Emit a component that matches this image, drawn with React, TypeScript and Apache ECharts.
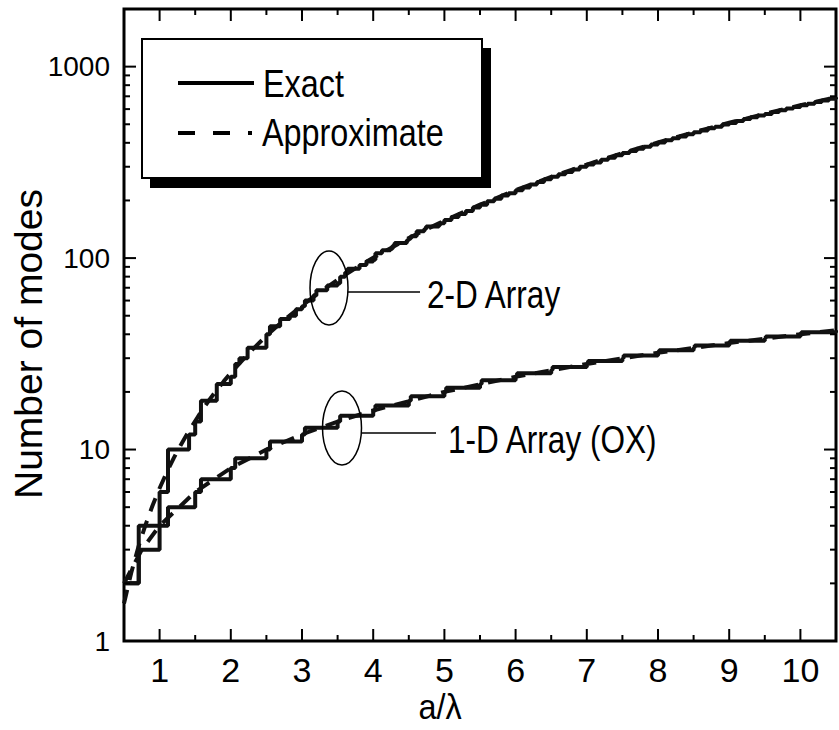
import React, { useEffect, useRef } from "react";
import * as echarts from "echarts";

// ---------------- data ----------------
const X_MIN = 0.5;
const X_MAX = 10.5;
const Y_MIN = 1;
const Y_MAX = 2000;

// 2-D array, exact (staircase): a/λ where the count steps, and the count after the step
const X_2D_EXACT = [
  0.5, 0.707, 1.0, 1.118, 1.414, 1.5, 1.581, 1.803, 2.0, 2.062, 2.121, 2.236, 2.5, 2.55, 2.693,
  2.828, 2.915, 3.0, 3.041, 3.162, 3.202, 3.354, 3.5, 3.536, 3.606, 3.64, 3.808, 3.905, 4.0, 4.031,
  4.123, 4.243, 4.272, 4.301, 4.472, 4.5, 4.528, 4.61, 4.717, 4.743, 4.924, 4.95, 5.0,
  5.1, 5.2, 5.3, 5.4, 5.5, 5.6, 5.7, 5.8, 5.9, 6.0, 6.1, 6.2, 6.3, 6.4, 6.5, 6.6, 6.7, 6.8, 6.9,
  7.0, 7.1, 7.2, 7.3, 7.4, 7.5, 7.6, 7.7, 7.8, 7.9, 8.0, 8.1, 8.2, 8.3, 8.4, 8.5, 8.6, 8.7, 8.8,
  8.9, 9.0, 9.1, 9.2, 9.3, 9.4, 9.5, 9.6, 9.7, 9.8, 9.9, 10.0, 10.1, 10.2, 10.3, 10.4, 10.5,
];
const N_2D_EXACT = [
  2, 4, 6, 10, 12, 14, 18, 22, 24, 28, 30, 34, 40, 44, 48,
  50, 54, 56, 60, 64, 68, 72, 74, 80, 84, 88, 92, 96, 98, 106,
  110, 112, 116, 120, 124, 126, 130, 138, 142, 146, 150, 152, 158,
  164, 170, 176, 184, 190, 198, 204, 212, 218, 226, 234, 242, 250, 258, 266, 274, 282, 290, 300,
  308, 316, 326, 334, 344, 354, 362, 372, 382, 392, 402, 412, 422, 432, 444, 454, 464, 476, 486,
  498, 508, 520, 532, 544, 556, 566, 580, 592, 604, 616, 628, 640, 654, 666, 680, 692,
];

// 2-D array, approximate (smooth)
const X_2D_APPROX = [
  0.5, 0.6, 0.7, 0.8, 0.9, 1.0, 1.1, 1.2, 1.3, 1.4, 1.5, 1.6, 1.7, 1.8, 1.9, 2.0, 2.25, 2.5, 2.75,
  3.0, 3.25, 3.5, 3.75, 4.0, 4.5, 5.0, 5.5, 6.0, 6.5, 7.0, 7.5, 8.0, 8.5, 9.0, 9.5, 10.0, 10.5,
];
const N_2D_APPROX = [
  1.57, 2.26, 3.08, 4.02, 5.09, 6.28, 7.6, 9.05, 10.6, 12.3, 14.1, 16.1, 18.2, 20.4, 22.7, 25.1, 31.8,
  39.3, 47.5, 56.5, 66.4, 77.0, 88.4, 100.5, 127.2, 157.1, 190.1, 226.2, 265.5, 307.9, 353.4, 402.1,
  454.0, 508.9, 567.1, 628.3, 692.7,
];

// 1-D array (OX), exact (staircase)
const X_1D_EXACT = [
  0.5, 0.707, 1.0, 1.118, 1.5, 1.581, 2.0, 2.062, 2.5, 2.55, 3.0, 3.041, 3.5, 3.536, 4.0, 4.031,
  4.5, 4.528, 5.0, 5.025, 5.5, 5.523, 6.0, 6.021, 6.5, 6.519, 7.0, 7.018, 7.5, 7.517, 8.0, 8.016,
  8.5, 8.515, 9.0, 9.014, 9.5, 9.513, 10.0, 10.012, 10.5,
];
const N_1D_EXACT = [
  2, 3, 4, 5, 6, 7, 8, 9, 10, 11, 12, 13, 14, 15, 16, 17, 18, 19, 20, 21, 22, 23, 24, 25, 26, 27,
  28, 29, 30, 31, 32, 33, 34, 35, 36, 37, 38, 39, 40, 41, 42,
];

// 1-D array (OX), approximate
const X_1D_APPROX = [0.5, 0.75, 1.0, 1.5, 2.0, 2.5, 3.0, 3.5, 4.0, 5.0, 6.0, 7.0, 8.0, 9.0, 10.0, 10.5];
const N_1D_APPROX = [2, 3, 4, 6, 8, 10, 12, 14, 16, 20, 24, 28, 32, 36, 40, 42];

// ticks
const X_MAJOR_TICKS = [1, 2, 3, 4, 5, 6, 7, 8, 9, 10];
const X_MINOR_TICKS = [1.5, 2.5, 3.5, 4.5, 5.5, 6.5, 7.5, 8.5, 9.5];
const Y_MAJOR_TICKS = [1, 10, 100, 1000];
const Y_MINOR_TICKS = [
  2, 3, 4, 5, 6, 7, 8, 9, 20, 30, 40, 50, 60, 70, 80, 90, 200, 300, 400, 500, 600, 700, 800, 900, 2000,
];
const Y_LABELS = [1, 10, 100, 1000];

// texts
const X_TITLE = "a/λ";
const Y_TITLE = "Number of modes";
const LEGEND_EXACT = "Exact";
const LEGEND_APPROX = "Approximate";
const NOTE_2D = "2-D Array";
const NOTE_1D = "1-D Array (OX)";

const FONT = '"Liberation Sans", Arial, sans-serif';
const NARROW_SCALE = 0.83;

const zip = (xs: number[], ys: number[]) => xs.map((x, i) => [x, ys[i]]);

export default function App() {
  const ref = useRef<HTMLDivElement>(null);

  useEffect(() => {
    if (!ref.current) return;
    const chart = echarts.init(ref.current, null, { renderer: "svg" });

    const tickData = [
      ...X_MAJOR_TICKS.map((v) => [v, Y_MIN, 0, 1]),
      ...X_MINOR_TICKS.map((v) => [v, Y_MIN, 0, 0]),
      ...Y_MAJOR_TICKS.map((v) => [X_MIN, v, 1, 1]),
      ...Y_MINOR_TICKS.map((v) => [X_MIN, v, 1, 0]),
    ];

    const lineStyleBase = { color: "#111", width: 4 };

    const narrowText = (text: string, x: number, y: number, size: number, extra: any = {}) => ({
      type: "text",
      x,
      y,
      scaleX: NARROW_SCALE,
      z: 22,
      ...extra,
      style: { text, font: `${size}px ${FONT}`, fill: "#000", align: "left", verticalAlign: "middle" },
    });

    const option: any = {
      animation: false,
      backgroundColor: "#fff",
      grid: {
        left: 124,
        top: 9,
        width: 714,
        height: 632,
        show: true,
        borderColor: "#000",
        borderWidth: 3,
        backgroundColor: "transparent",
      },
      xAxis: {
        type: "value",
        min: X_MIN,
        max: X_MAX,
        interval: 0.5,
        axisLine: { show: false },
        axisTick: { show: false },
        splitLine: { show: false },
        axisLabel: {
          margin: 12,
          color: "#000",
          fontSize: 34,
          fontFamily: FONT,
          formatter: (v: number) => (Number.isInteger(v) && v >= 1 && v <= 10 ? String(v) : ""),
        },
      },
      yAxis: {
        type: "log",
        logBase: 10,
        min: Y_MIN,
        max: Y_MAX,
        axisLine: { show: false },
        axisTick: { show: false },
        splitLine: { show: false },
        minorTick: { show: false },
        axisLabel: {
          margin: 14,
          color: "#000",
          fontSize: 28,
          fontFamily: FONT,
          showMaxLabel: false,
          formatter: (v: number) => {
            const hit = Y_LABELS.find((l) => Math.abs(l - v) / l < 1e-6);
            return hit !== undefined ? String(hit) : "";
          },
        },
      },
      series: [
        {
          name: LEGEND_EXACT + " 2-D",
          type: "line",
          step: "end",
          showSymbol: false,
          data: zip(X_2D_EXACT, N_2D_EXACT),
          lineStyle: { ...lineStyleBase },
          z: 3,
        },
        {
          name: LEGEND_EXACT + " 1-D",
          type: "line",
          step: "end",
          showSymbol: false,
          data: zip(X_1D_EXACT, N_1D_EXACT),
          lineStyle: { ...lineStyleBase },
          z: 3,
        },
        {
          name: LEGEND_APPROX + " 2-D",
          type: "line",
          showSymbol: false,
          data: zip(X_2D_APPROX, N_2D_APPROX),
          lineStyle: { ...lineStyleBase, type: [14, 10] },
          z: 4,
        },
        {
          name: LEGEND_APPROX + " 1-D",
          type: "line",
          showSymbol: false,
          data: zip(X_1D_APPROX, N_1D_APPROX),
          lineStyle: { ...lineStyleBase, type: [14, 10] },
          z: 4,
        },
        {
          type: "custom",
          silent: true,
          clip: false,
          z: 10,
          dimensions: ["x", "y", "kind", "major"],
          encode: { x: 0, y: 1 },
          data: tickData,
          renderItem: (params: any, api: any) => {
            const cs = params.coordSys;
            const p = api.coord([api.value(0), api.value(1)]);
            const kind = api.value(2);
            const len = api.value(3) ? 12 : 6;
            const style = { stroke: "#000", lineWidth: 2 };
            if (kind === 0) {
              const bottom = cs.y + cs.height;
              const top = cs.y;
              return {
                type: "group",
                children: [
                  { type: "line", shape: { x1: p[0], y1: bottom, x2: p[0], y2: bottom - len }, style },
                  { type: "line", shape: { x1: p[0], y1: top, x2: p[0], y2: top + len }, style },
                ],
              };
            }
            const left = cs.x;
            const right = cs.x + cs.width;
            return {
              type: "group",
              children: [
                { type: "line", shape: { x1: left, y1: p[1], x2: left + len, y2: p[1] }, style },
                { type: "line", shape: { x1: right, y1: p[1], x2: right - len, y2: p[1] }, style },
              ],
            };
          },
        },
      ],
      graphic: [
        // axis titles
        {
          type: "text",
          x: 440,
          y: 706,
          scaleX: 0.9,
          style: { text: X_TITLE, font: `36px ${FONT}`, fill: "#000", align: "center", verticalAlign: "middle" },
        },
        {
          type: "text",
          x: 28,
          y: 344,
          rotation: Math.PI / 2,
          style: { text: Y_TITLE, font: `39px ${FONT}`, fill: "#000", align: "center", verticalAlign: "middle" },
        },
        // legend box with shadow
        { type: "rect", shape: { x: 150, y: 48, width: 341, height: 140 }, style: { fill: "#000" }, z: 20 },
        {
          type: "rect",
          shape: { x: 142, y: 39, width: 340, height: 139 },
          style: { fill: "#fff", stroke: "#000", lineWidth: 2 },
          z: 21,
        },
        {
          type: "line",
          shape: { x1: 178, y1: 83, x2: 254, y2: 83 },
          style: { stroke: "#000", lineWidth: 4 },
          z: 22,
        },
        {
          type: "line",
          shape: { x1: 178, y1: 133, x2: 252, y2: 133 },
          style: { stroke: "#000", lineWidth: 4, lineDash: [17, 18] },
          z: 22,
        },
        narrowText(LEGEND_EXACT, 263, 84, 39),
        narrowText(LEGEND_APPROX, 262, 133, 39),
        // annotations
        {
          type: "ellipse",
          shape: { cx: 329, cy: 288, rx: 19, ry: 37 },
          style: { fill: "none", stroke: "#000", lineWidth: 1.5 },
          z: 22,
        },
        {
          type: "line",
          shape: { x1: 348, y1: 292, x2: 420, y2: 292 },
          style: { stroke: "#000", lineWidth: 1.5 },
          z: 22,
        },
        narrowText(NOTE_2D, 427, 294, 38),
        {
          type: "ellipse",
          shape: { cx: 342, cy: 428, rx: 19.5, ry: 37 },
          style: { fill: "none", stroke: "#000", lineWidth: 1.5 },
          z: 22,
        },
        {
          type: "line",
          shape: { x1: 362, y1: 433, x2: 436, y2: 433 },
          style: { stroke: "#000", lineWidth: 1.5 },
          z: 22,
        },
        narrowText(NOTE_1D, 448, 439, 38),
      ],
    };

    chart.setOption(option);
    return () => chart.dispose();
  }, []);

  return (
    <div
      ref={ref}
      style={{ position: "absolute", left: 0, top: 0, width: 839, height: 730, background: "#fff" }}
    />
  );
}
